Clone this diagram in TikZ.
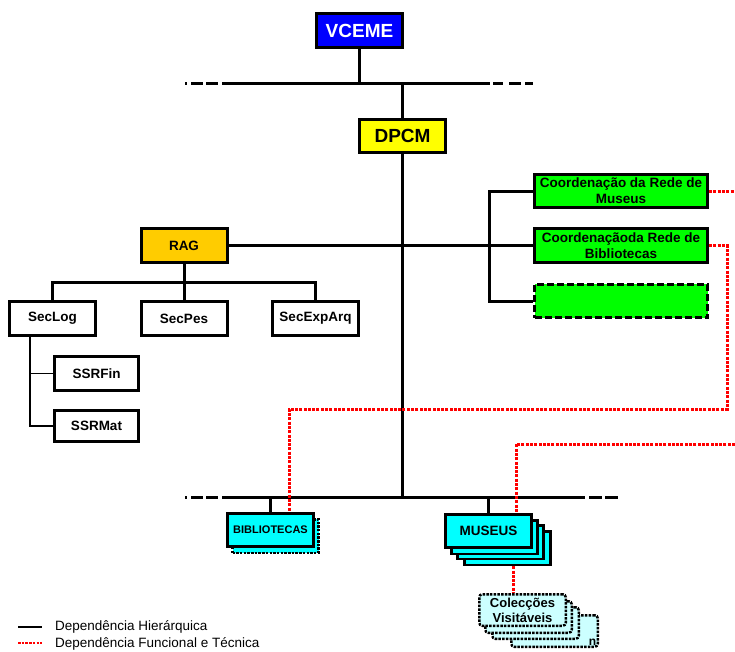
\documentclass[tikz,border=0pt]{standalone}
\usepackage{fontspec}
\setmainfont{Liberation Sans}
\usetikzlibrary{positioning,shadows}

\definecolor{vblue}{RGB}{0,0,255}
\definecolor{vyellow}{RGB}{255,255,0}
\definecolor{vorange}{RGB}{255,204,0}
\definecolor{vgreen}{RGB}{0,255,0}
\definecolor{vcyan}{RGB}{0,255,255}
\definecolor{vpale}{RGB}{204,255,255}

\tikzset{
  unit/.style={draw, line width=3pt, inner sep=1pt, align=center,
    font=\bfseries\fontsize{13.5}{16}\selectfont,
    minimum width=86pt, minimum height=33.5pt},
  hier/.style={line width=3pt},
  sub/.style={line width=1.5pt},
  func/.style={red, line width=3pt, dash pattern=on 3pt off 1.3pt},
  leftend/.style={hier, dash pattern=on 2pt off 4pt on 12pt off 3pt on 12pt off 5pt},
  dotbox/.style={draw, line width=2.5pt, dash pattern=on 2.5pt off 1.2pt},
  legend/.style={font=\fontsize{13.5}{15}\selectfont, inner sep=0pt, anchor=west}
}

\begin{document}
\begin{tikzpicture}[x=1pt,y=-1pt]
  \useasboundingbox (0,0) rectangle (735,651);

  % top of the tree
  \node[unit, fill=vblue, text=white, font=\bfseries\fontsize{19}{21}\selectfont] (vceme) at (359.5,30.5) {VCEME};
  \node[unit, fill=vyellow, font=\bfseries\fontsize{19}{21}\selectfont] (dpcm) at (402.5,136) {DPCM};
  \node[unit, fill=vorange] (rag) at (184,245.5) {RAG};

  % sections under RAG
  \node[unit, fill=white] (seclog) at (52.5,318.5) {SecLog};
  \node[unit, fill=white] (secpes) at (184,318.5) {SecPes};
  \node[unit, fill=white] (secexparq) at (315.5,318.5) {SecExpArq};
  \node[unit, fill=white, minimum width=84pt] (ssrfin) at (96.5,373.5) {SSRFin};
  \node[unit, fill=white, minimum width=84pt, minimum height=31pt] (ssrmat) at (96.5,426) {SSRMat};

  % coordinations
  \node[unit, fill=vgreen, minimum width=173pt] (crm) at (621,191) {Coordenação da Rede de\\Museus};
  \node[unit, fill=vgreen, minimum width=173pt] (crb) at (621,245.5) {Coordenaçãoda Rede de\\Bibliotecas};
  \node[unit, fill=vgreen, minimum width=173pt, dash pattern=on 7pt off 3pt] (cvazio) at (621,301) {};

  % libraries and museums
  \node[unit, fill=vcyan, font=\bfseries\fontsize{11}{13}\selectfont,
    copy shadow={shadow xshift=5pt, shadow yshift=-6pt, fill=vcyan, dotbox}] (bib) at (270.5,530) {BIBLIOTECAS};
  \node[unit, fill=vcyan,
    copy shadow={shadow xshift=19pt, shadow yshift=-17pt, fill=vcyan, draw, line width=2.5pt},
    copy shadow={shadow xshift=12pt, shadow yshift=-11pt, fill=vcyan, draw, line width=2.5pt},
    copy shadow={shadow xshift=6pt, shadow yshift=-6pt, fill=vcyan, draw, line width=2.5pt}] (mus) at (488.5,531) {MUSEUS};
  \node[dotbox, fill=vpale, rounded corners=3pt, align=center, inner sep=1pt,
    font=\bfseries\fontsize{13}{15}\selectfont, minimum width=86.5pt, minimum height=31.5pt,
    copy shadow={shadow xshift=32pt, shadow yshift=-21pt, fill=vpale, dotbox},
    copy shadow={shadow xshift=13pt, shadow yshift=-13pt, fill=vpale, dotbox},
    copy shadow={shadow xshift=6pt, shadow yshift=-7pt, fill=vpale, dotbox}] (colec) at (522.5,610) {Colecções\\Visitáveis};
  \node[font=\bfseries\fontsize{12}{13}\selectfont, anchor=south east, inner sep=2.5pt] (nlab) at ([shift={(32,21)}]colec.south east) {n};

  % the two bars
  \coordinate (topbar) at (300,83);
  \coordinate (botbar) at (300,497);
  \draw[leftend] (185,83) -- (222,83);
  \draw[hier] (222,83) -- (490,83);
  \draw[hier, dash pattern=on 10pt off 6pt on 12pt off 4pt on 8pt off 10pt] (493,83) -- (533,83);
  \draw[leftend] (185,497) -- (222,497);
  \draw[hier] (222,497) -- (585,497);
  \draw[hier, dash pattern=on 13pt off 3pt on 13pt off 10pt] (589,497) -- (618,497);

  % hierarchy
  \draw[hier] (vceme.south) -- (vceme.south |- topbar);
  \draw[hier] (dpcm.north) -- (dpcm.north |- topbar);
  \draw[hier] (dpcm.south) -- (dpcm.south |- botbar);
  \draw[hier] (rag.east) -- (crb.west);
  \draw[hier] (crm.west) -- ++(-44,0) |- (cvazio.west);
  \coordinate (secbus) at (184,282);
  \draw[hier] (rag.south) -- (secpes.north);
  \draw[hier] (seclog.north) |- (secbus) -| (secexparq.north);
  \coordinate (sublink) at ([xshift=-22.5pt]seclog.south);
  \draw[sub] (sublink) |- (ssrmat.west);
  \draw[sub] (ssrfin.west) -- (ssrfin.west -| sublink);
  \draw[hier] (bib.north) -- (bib.north |- botbar);
  \draw[hier] (mus.north) -- (mus.north |- botbar);

  % functional links
  \coordinate (edgeA) at (735,191);
  \coordinate (edgeB) at (735,444);
  \coordinate (redbus) at (0,409);
  \coordinate (bibin) at ([xshift=18.5pt]bib.north);
  \draw[func] (crm.east) -- (edgeA);
  \draw[func] (crb.east) -- ++(18,0) |- (bibin |- redbus) -- (bibin);
  \draw[func] (edgeB) -| ([xshift=27.5pt]mus.north);
  \draw[func] ([shift={(24.5,17)}]mus.south) -- ([xshift=-9.5pt]colec.north);

  % legend
  \node[legend] (legh) at (55,627) {Dependência Hierárquica};
  \node[legend] (legf) at (55,644) {Dependência Funcional e Técnica};
  \draw[line width=1.5pt] ([xshift=-37pt]legh.west) -- ([xshift=-13pt]legh.west);
  \draw[func, line width=2.5pt, dash pattern=on 2.5pt off 1.2pt] ([xshift=-37pt,yshift=1pt]legf.west) -- ([xshift=-13pt,yshift=1pt]legf.west);
\end{tikzpicture}
\end{document}
